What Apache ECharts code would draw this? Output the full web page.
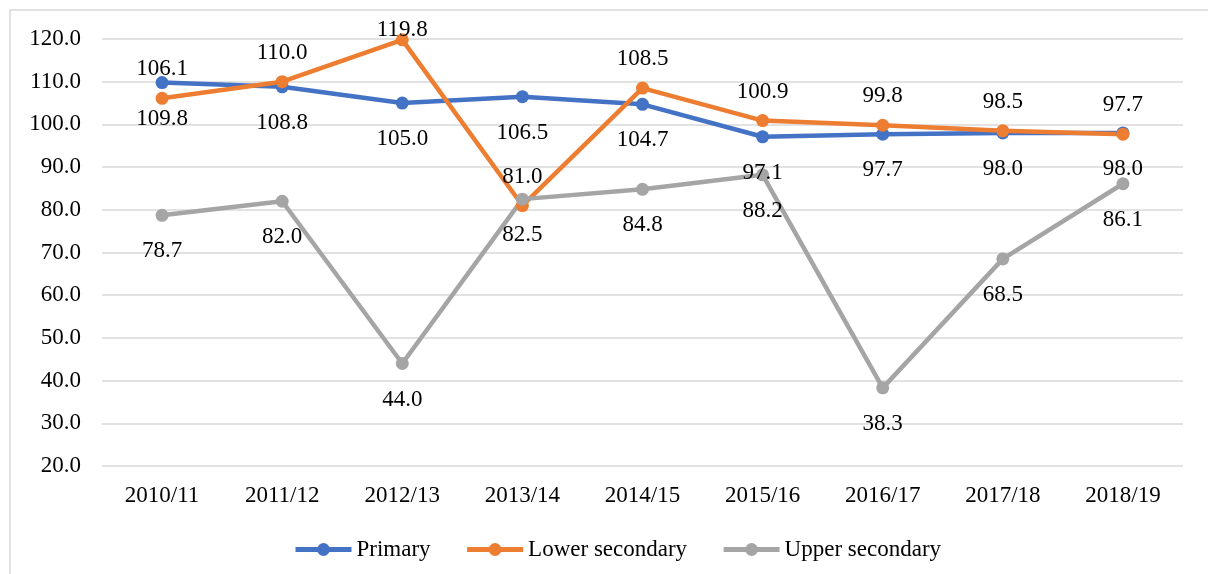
<!DOCTYPE html>
<html>
<head>
<meta charset="utf-8">
<script src="https://cdn.jsdelivr.net/npm/echarts@6/dist/echarts.min.js"></script>
<style>
  html, body { margin: 0; padding: 0; background: #fff; }
  #chart { width: 1208px; height: 574px; }
</style>
</head>
<body>
<div id="chart"></div>
<script>
const years = ['2010/11', '2011/12', '2012/13', '2013/14', '2014/15', '2015/16', '2016/17', '2017/18', '2018/19'];
const primary = [109.8, 108.8, 105.0, 106.5, 104.7, 97.1, 97.7, 98.0, 98.0];
const lowerSecondary = [106.1, 110.0, 119.8, 81.0, 108.5, 100.9, 99.8, 98.5, 97.7];
const upperSecondary = [78.7, 82.0, 44.0, 82.5, 84.8, 88.2, 38.3, 68.5, 86.1];

const font = 'Liberation Serif, Times New Roman, serif';
const myChart = echarts.init(document.getElementById('chart'));

function makeSeries(name, data, color, pos, dist) {
  return {
    name: name,
    type: 'line',
    // label at the top edge sits lower so it stays inside the chart
    data: data.map(v => v >= 119 ? { value: v, label: { offset: [0, 19] } } : v),
    symbol: 'circle',
    symbolSize: 13,
    lineStyle: { width: 4.5, color: color },
    itemStyle: { color: color },
    label: {
      show: true,
      position: pos,
      distance: dist,
      color: '#000',
      fontFamily: font,
      fontSize: 23,
      formatter: p => p.value.toFixed(1)
    },
    emphasis: { disabled: true }
  };
}

let option = {
  backgroundColor: '#fff',
  animation: false,
  graphic: [{
    type: 'rect',
    shape: { x: 10, y: 10, width: 1220, height: 600 },
    style: { fill: 'none', stroke: '#d9d9d9', lineWidth: 1.5 },
    silent: true
  }],
  grid: { left: 102, right: 25, top: 39, bottom: 108 },
  legend: {
    left: 288,
    top: 533,
    itemWidth: 56,
    itemHeight: 16,
    itemGap: 34,
    lineStyle: { width: 5 },
    textStyle: { fontFamily: font, fontSize: 23, color: '#000' },
    data: ['Primary', 'Lower secondary', 'Upper secondary']
  },
  xAxis: {
    type: 'category',
    data: years,
    axisLine: { show: false },
    axisTick: { show: false },
    axisLabel: { color: '#000', fontFamily: font, fontSize: 23, margin: 18 }
  },
  yAxis: {
    type: 'value',
    min: 20,
    max: 120,
    interval: 10,
    axisLine: { show: false },
    axisTick: { show: false },
    splitLine: { lineStyle: { color: '#d9d9d9', width: 1.5 } },
    axisLabel: {
      color: '#000', fontFamily: font, fontSize: 23, margin: 21,
      formatter: v => v.toFixed(1)
    }
  },
  series: [
    makeSeries('Primary', primary, '#4472C4', 'bottom', 18),
    makeSeries('Lower secondary', lowerSecondary, '#ED7D31', 'top', 11),
    makeSeries('Upper secondary', upperSecondary, '#A5A5A5', 'bottom', 18)
  ]
};
option && myChart.setOption(option);
</script>
</body>
</html>
